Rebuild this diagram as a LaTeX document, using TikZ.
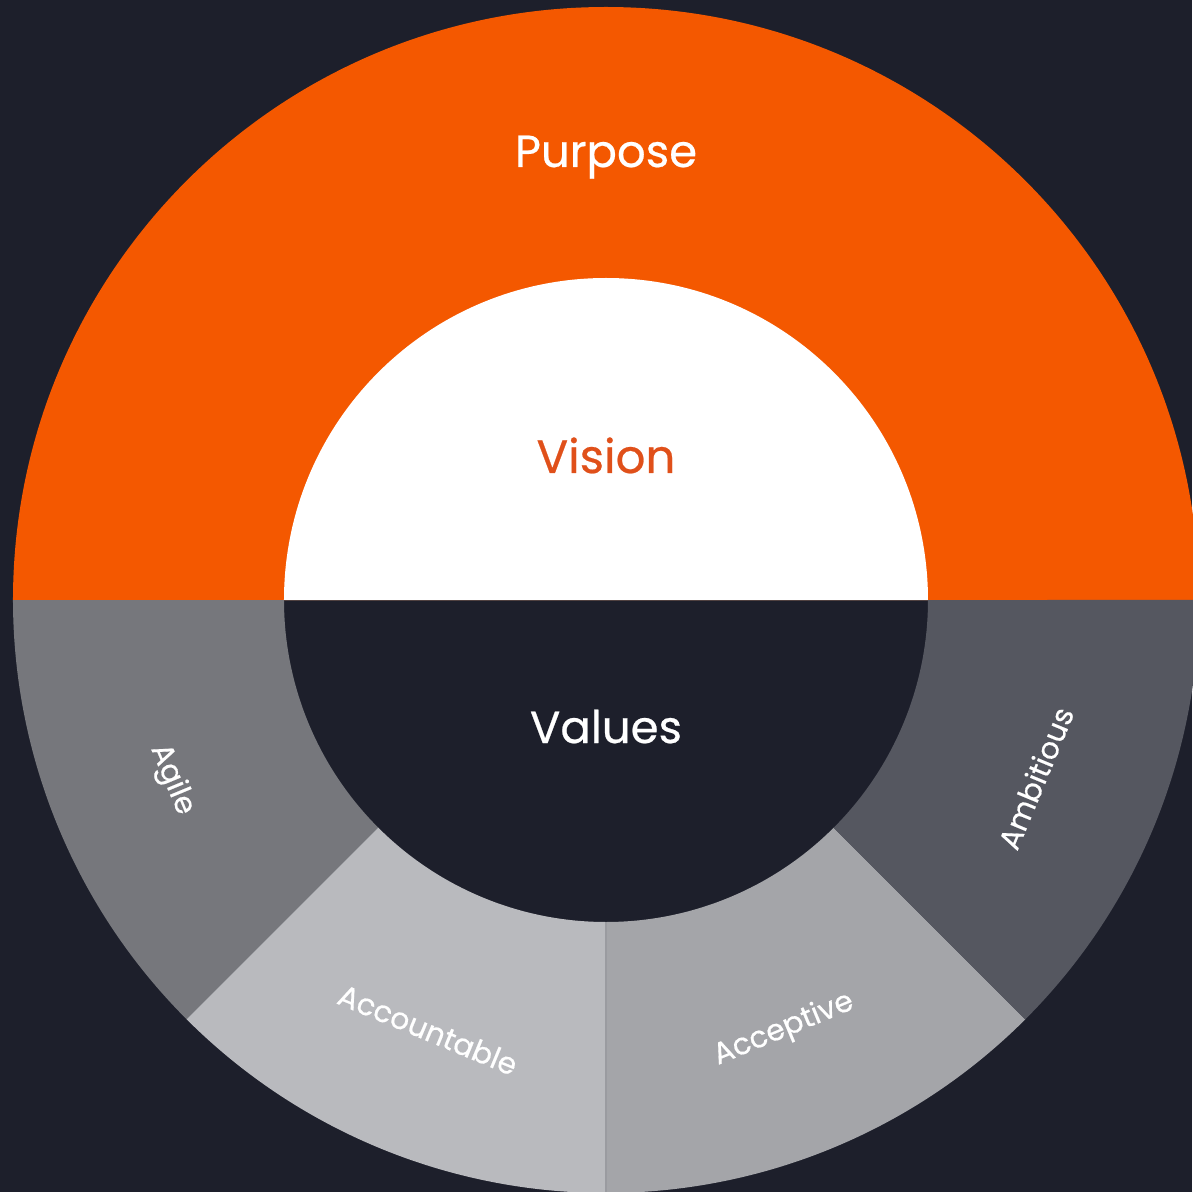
\documentclass[tikz,border=0pt]{standalone}
\usepackage{fontspec}
\setmainfont{Poppins}
\newfontfamily\wheelfont{Poppins}[FakeBold=0.5]
\usepackage{xcolor}
\usepackage{tikz}

\definecolor{bgdark}{HTML}{1D1F2B}
\definecolor{purposeorange}{HTML}{F45800}
\definecolor{visionorange}{HTML}{E0501A}
\definecolor{agilegrey}{HTML}{76777C}
\definecolor{accountgrey}{HTML}{B9BABE}
\definecolor{acceptgrey}{HTML}{A4A5A9}
\definecolor{ambitgrey}{HTML}{555760}
\definecolor{splitgrey}{HTML}{9A9BA0}

\tikzset{
  bigword/.style={font=\wheelfont\fontsize{12.8}{15}\selectfont, inner sep=0pt, anchor=base},
  valueword/.style={font=\wheelfont\fontsize{8.5}{10}\selectfont, text=white, inner sep=0pt},
}

\begin{document}
\begin{tikzpicture}
\useasboundingbox (-6.06,-5.92) rectangle (5.86,6.00);
\fill [bgdark] (-6.06,-5.92) rectangle (5.86,6.00);
% upper half: purpose ring and vision disc
\fill [purposeorange] (0:5.93) arc (0:180:5.93) -- cycle;
\fill [white] (0:3.22) arc (0:180:3.22) -- cycle;
% lower half: four value sectors
\fill [agilegrey] (180:3.22) -- (180:5.93) arc (180:225:5.93) -- (225:3.22) arc (225:180:3.22) -- cycle;
\fill [accountgrey] (225:3.22) -- (225:5.93) arc (225:270:5.93) -- (270:3.22) arc (270:225:3.22) -- cycle;
\fill [acceptgrey] (270:3.22) -- (270:5.93) arc (270:315:5.93) -- (315:3.22) arc (315:270:3.22) -- cycle;
\fill [ambitgrey] (315:3.22) -- (315:5.93) arc (315:360:5.93) -- (360:3.22) arc (360:315:3.22) -- cycle;
\draw [splitgrey, line width=0.6pt] (270:3.22) -- (270:5.93);
% labels
\node [bigword, text=white] (purpose) at (0,4.33) {Purpose};
\node [bigword, text=visionorange, font=\wheelfont\fontsize{13.3}{15}\selectfont] (vision) at (0,1.27) {Vision};
\node [bigword, text=white] (values) at (0,-1.43) {Values};
\node [valueword, rotate=-67.5] (agile) at (202.5:4.7) {Agile};
\node [valueword, rotate=-22.5] (accountable) at (247.5:4.65) {Accountable};
\node [valueword, rotate=22.5] (acceptive) at (292.5:4.65) {Acceptive};
\node [valueword, rotate=67.5] (ambitious) at (337.5:4.65) {Ambitious};
\end{tikzpicture}
\end{document}
